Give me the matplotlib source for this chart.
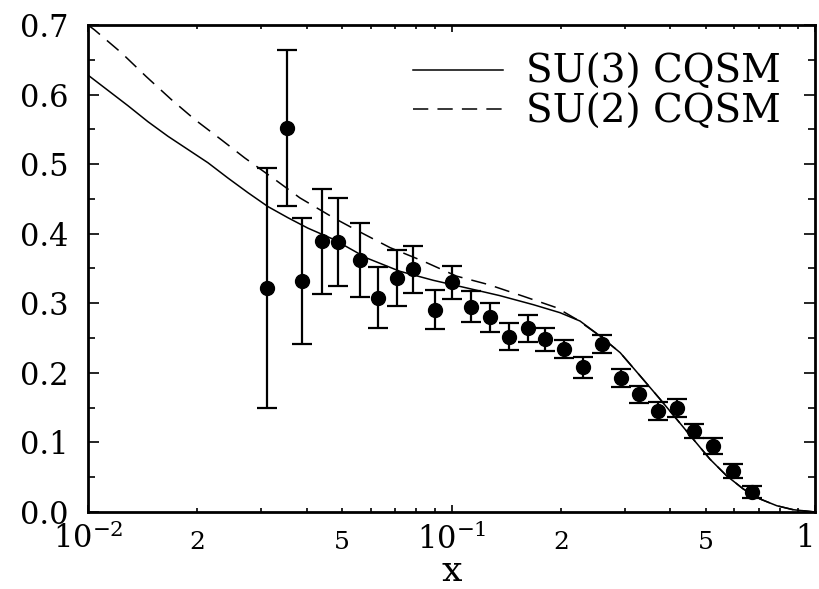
import numpy as np
import matplotlib
matplotlib.use("Agg")
import matplotlib.pyplot as plt
from matplotlib.ticker import FixedLocator, FuncFormatter, MultipleLocator

plt.rcParams['font.family'] = ['DejaVu Serif']
plt.rcParams['mathtext.fontset'] = 'dejavuserif'

# data points with error bars
x_data = [0.031, 0.0352, 0.0387, 0.0441, 0.0488, 0.056, 0.0629, 0.0707, 0.0782,
          0.0901, 0.1005, 0.1129, 0.1276, 0.1442, 0.1627, 0.1809, 0.2044, 0.2305,
          0.2589, 0.292, 0.3286, 0.3707, 0.4163, 0.4656, 0.525, 0.5937, 0.6724]
y_data = [0.322, 0.552, 0.332, 0.389, 0.388, 0.362, 0.308, 0.336, 0.349,
          0.291, 0.330, 0.295, 0.280, 0.252, 0.264, 0.248, 0.234, 0.208,
          0.242, 0.192, 0.169, 0.145, 0.150, 0.117, 0.095, 0.059, 0.029]
y_err = [0.172, 0.112, 0.091, 0.075, 0.063, 0.053, 0.044, 0.040, 0.034,
         0.028, 0.024, 0.022, 0.021, 0.019, 0.019, 0.016, 0.013, 0.015,
         0.013, 0.013, 0.012, 0.013, 0.013, 0.010, 0.012, 0.010, 0.009]

# SU(3) CQSM curve
x_su3 = [0.01, 0.01135, 0.01288, 0.01462, 0.0166, 0.01884, 0.02138, 0.02427,
         0.02754, 0.03126, 0.03548, 0.04027, 0.04732, 0.05848, 0.07211, 0.08913,
         0.1102, 0.1358, 0.1679, 0.1988, 0.2257, 0.2562, 0.2911, 0.3304, 0.375,
         0.4164, 0.4624, 0.514, 0.5715, 0.6353, 0.7063, 0.7852, 0.871, 1.0]
y_su3 = [0.628, 0.606, 0.584, 0.561, 0.540, 0.521, 0.502, 0.480,
         0.459, 0.439, 0.423, 0.408, 0.392, 0.365, 0.346, 0.333,
         0.322, 0.311, 0.298, 0.2865, 0.2745, 0.253, 0.229, 0.1956, 0.162,
         0.1334, 0.1047, 0.076, 0.052, 0.033, 0.0187, 0.009, 0.0033, 0.0]

# SU(2) CQSM curve
x_su2 = [0.01, 0.01042, 0.01236, 0.01445, 0.01694, 0.01968, 0.02328, 0.02698,
         0.03266, 0.03828, 0.04732, 0.05546, 0.06776, 0.08356, 0.1033, 0.1262,
         0.1578, 0.1945, 0.2208, 0.2562, 0.2911, 0.3304, 0.375, 0.4164, 0.4624,
         0.514, 0.5715, 0.6353, 0.7063, 0.7852, 0.871, 1.0]
y_su2 = [0.700, 0.693, 0.660, 0.626, 0.593, 0.564, 0.535, 0.509,
         0.478, 0.4515, 0.423, 0.4036, 0.380, 0.3606, 0.339, 0.327,
         0.310, 0.2937, 0.277, 0.253, 0.229, 0.1956, 0.162, 0.1334, 0.1047,
         0.076, 0.052, 0.033, 0.0187, 0.009, 0.0033, 0.0]

fig = plt.figure(figsize=(8.19, 5.89), dpi=100)
ax = fig.add_axes([88 / 819, 77 / 589, 727 / 819, 487 / 589])

ax.plot(x_su3, y_su3, color='black', lw=1.1, label='SU(3) CQSM')
ax.plot(x_su2, y_su2, color='black', lw=1.1, dashes=(10, 6), label='SU(2) CQSM')
ax.errorbar(x_data, y_data, yerr=y_err, fmt='o', color='black', ms=10,
            elinewidth=1.6, capsize=7, capthick=1.6)

ax.set_xscale('log')
ax.set_xlim(0.01, 1)
ax.set_ylim(0, 0.7)

# ticks
ax.xaxis.set_major_locator(FixedLocator([0.01, 0.1, 1]))
ax.xaxis.set_minor_locator(FixedLocator([m * d for d in (0.01, 0.1) for m in range(2, 10)]))
major_lab = {0.01: r'$\mathregular{10^{-2}}$', 0.1: r'$\mathregular{10^{-1}}$', 1: '1'}
ax.xaxis.set_major_formatter(FuncFormatter(lambda v, p: major_lab.get(round(v, 4), '')))


def minor_fmt(v, p):
    m = int(round(v / 10 ** np.floor(np.log10(v) + 1e-9)))
    return str(m) if m in (2, 5) else ''


ax.xaxis.set_minor_formatter(FuncFormatter(minor_fmt))
ax.yaxis.set_major_locator(MultipleLocator(0.1))
ax.yaxis.set_minor_locator(MultipleLocator(0.05))
ax.yaxis.set_major_formatter(FuncFormatter(lambda v, p: '%.1f' % v))

ax.tick_params(which='both', direction='in', top=True, right=True, width=1.2)
ax.tick_params(axis='y', which='major', length=8, labelsize=22, pad=14)
ax.tick_params(axis='y', which='minor', length=5)
ax.tick_params(axis='x', which='major', length=5, labelsize=22, pad=8)
ax.tick_params(axis='x', which='minor', length=3, labelsize=18, pad=14)

for s in ax.spines.values():
    s.set_linewidth(2)

ax.set_xlabel('x', fontsize=26, labelpad=-1)

ax.legend(loc='upper right', bbox_to_anchor=(0.953, 0.94), frameon=False,
          fontsize=28, handlelength=2.3, handletextpad=0.6, labelspacing=0.06,
          borderpad=0, borderaxespad=0)

fig.canvas.draw()
ax.xaxis.get_major_ticks()[-1].label1.set_horizontalalignment('right')

plt.savefig('out.png', dpi=100)
